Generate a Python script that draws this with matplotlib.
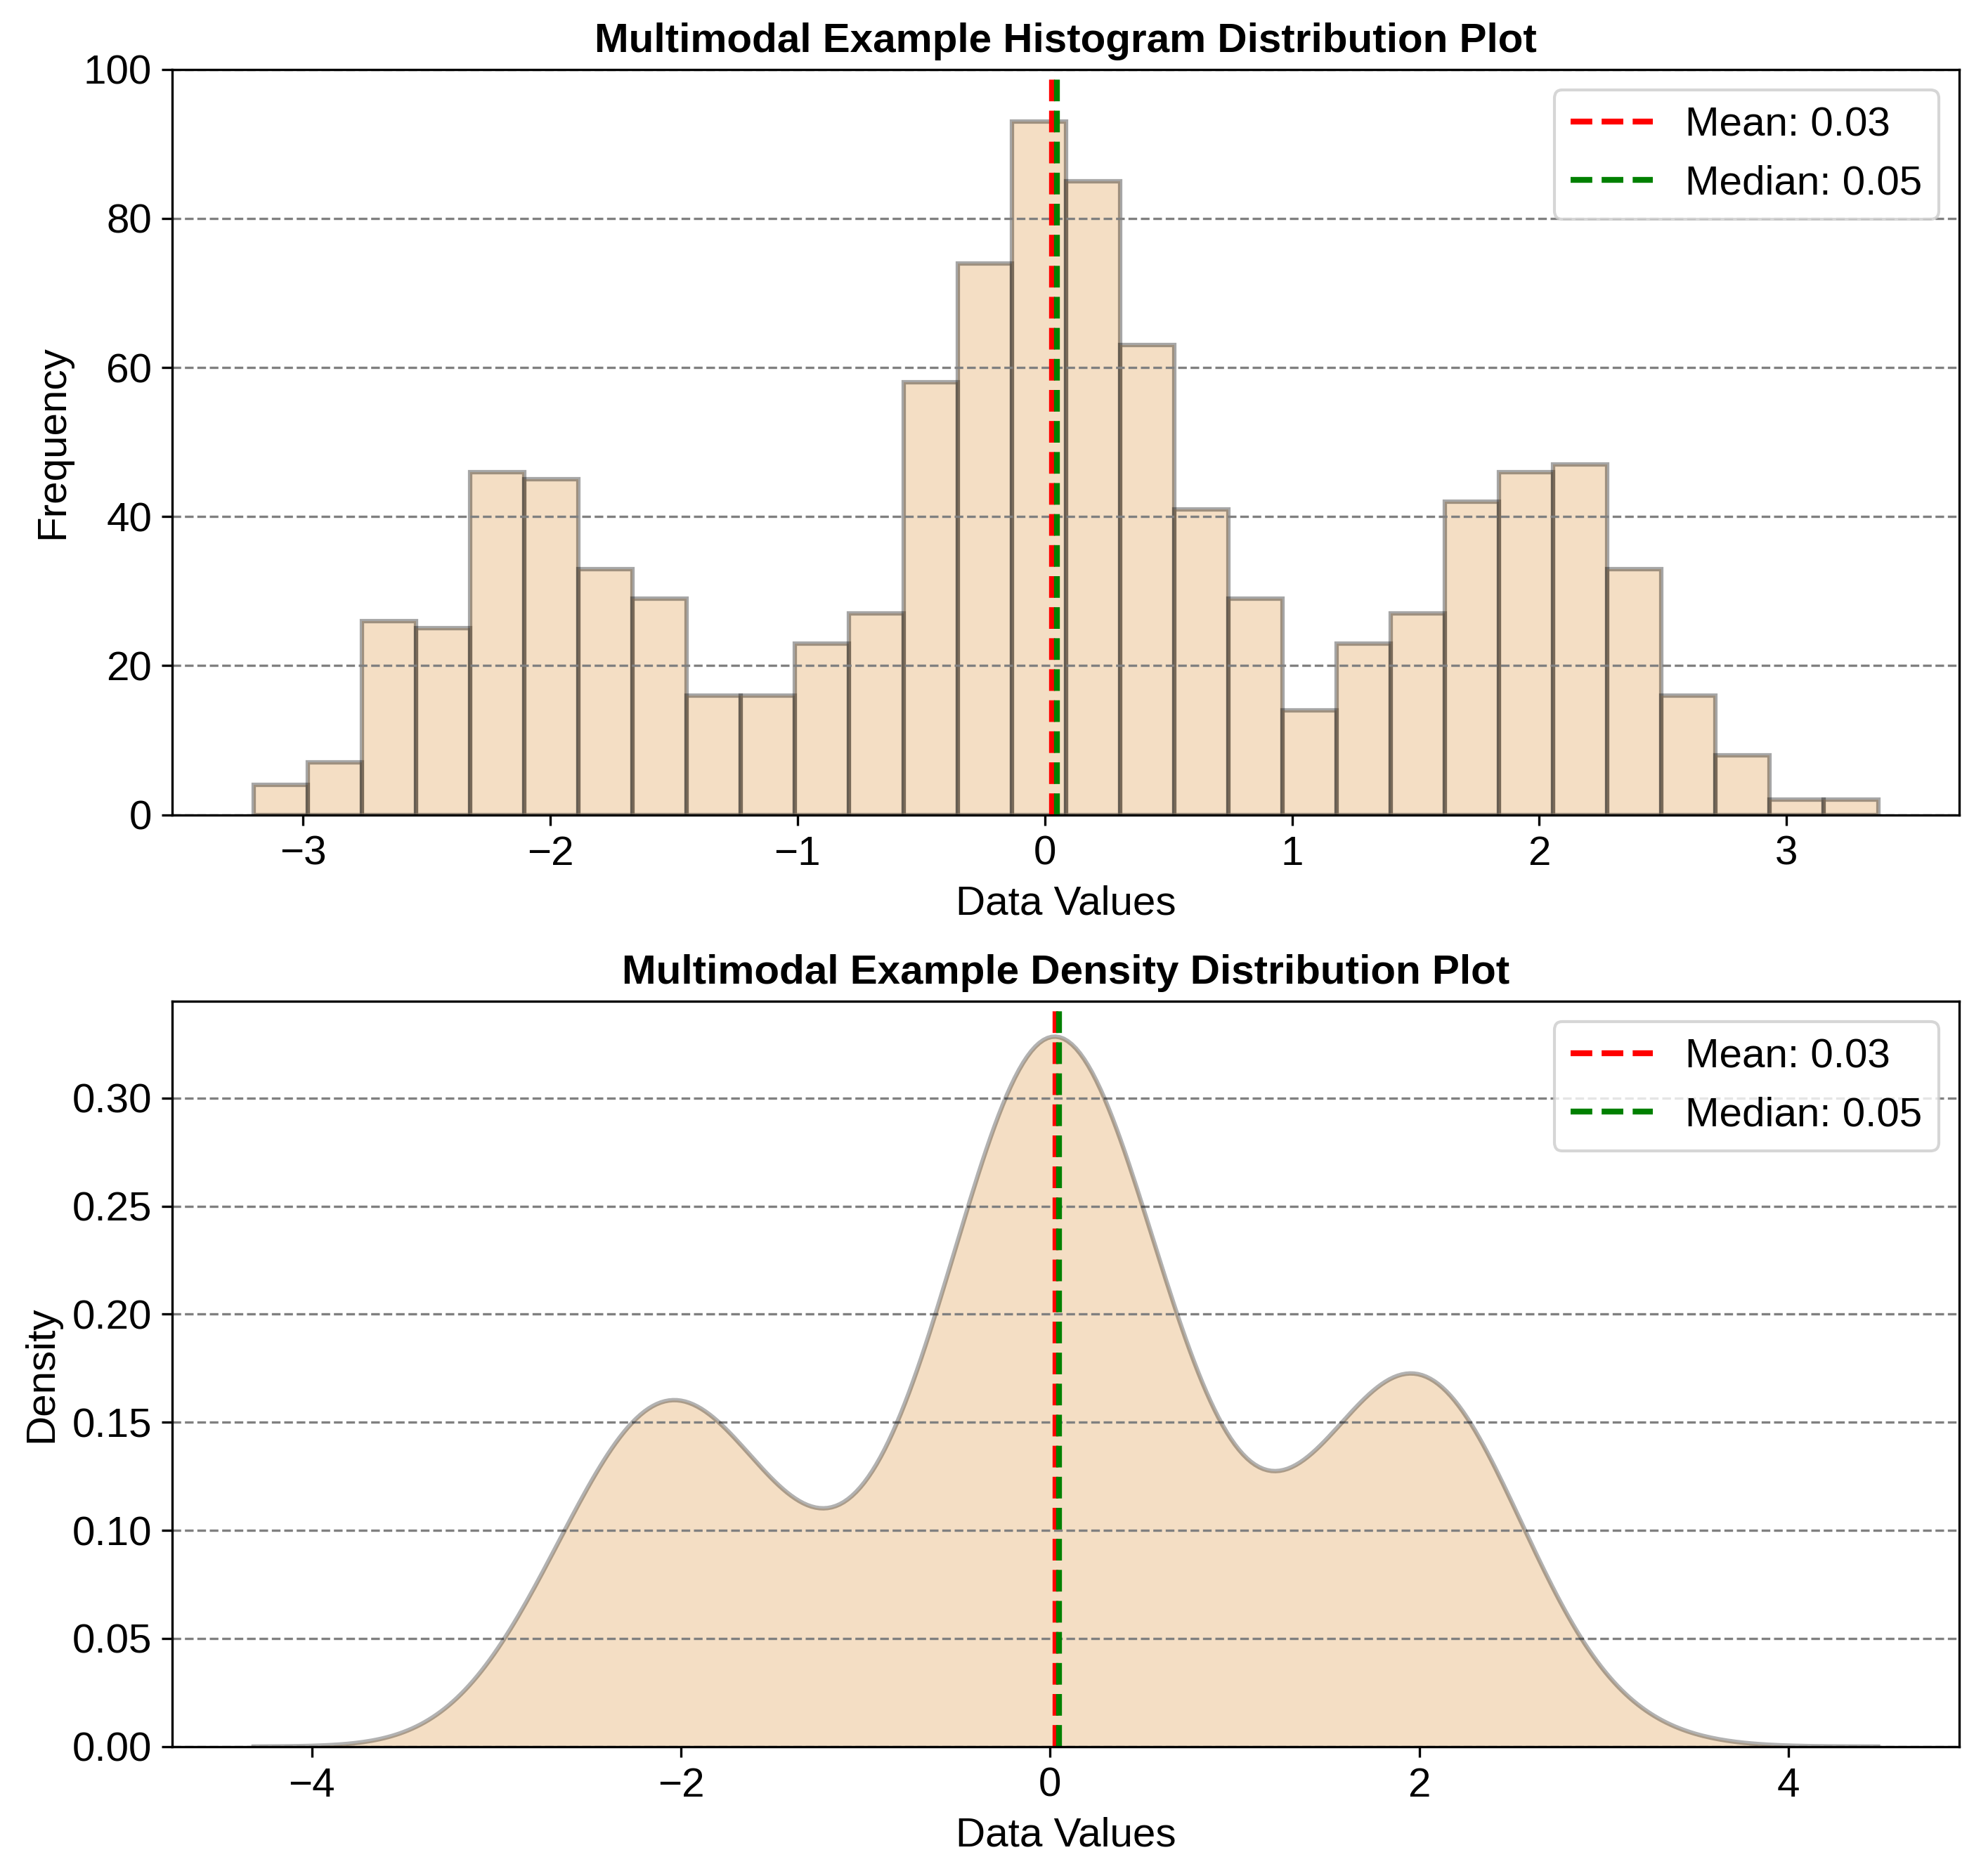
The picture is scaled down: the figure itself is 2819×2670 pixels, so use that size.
import numpy as np
import matplotlib
matplotlib.use("Agg")
import matplotlib.pyplot as plt

plt.rcParams['font.family'] = ['Liberation Sans', 'DejaVu Sans']

# histogram: 30 bins between hist_lo and hist_hi
hist_lo = -3.20
hist_hi = 3.37
counts = [4, 7, 26, 25, 46, 45, 33, 29, 16, 16,
          23, 27, 58, 74, 93, 85, 63, 41, 29, 14,
          23, 27, 42, 46, 47, 33, 16, 8, 2, 2]
mean_val = 0.03
median_val = 0.05

edges = np.linspace(hist_lo, hist_hi, len(counts) + 1)
centers = (edges[:-1] + edges[1:]) / 2

# gaussian kde (scott's rule) over the binned sample
sample = np.repeat(centers, counts)
bw = sample.std(ddof=1) * len(sample) ** (-1 / 5)
xs = np.linspace(hist_lo - 3 * bw, hist_hi + 3 * bw, 400)
dens = np.exp(-0.5 * ((xs[:, None] - sample[None, :]) / bw) ** 2).sum(axis=1)
dens /= len(sample) * bw * np.sqrt(2 * np.pi)

fill_col = '#E2A156'

fig, (ax1, ax2) = plt.subplots(2, 1, figsize=(9.397, 8.9), dpi=300)

ax1.hist(centers, bins=edges, weights=counts, color=fill_col, edgecolor='black',
         alpha=0.35, linewidth=1.5)
ax1.axvline(mean_val, color='red', linestyle='--', linewidth=2, label='Mean: %.2f' % mean_val)
ax1.axvline(median_val, color='green', linestyle='--', linewidth=2, label='Median: %.2f' % median_val)
ax1.set_ylim(0, 100)
ax1.set_title('Multimodal Example Histogram Distribution Plot', fontsize=14, fontweight='bold')
ax1.set_xlabel('Data Values', fontsize=14)
ax1.set_ylabel('Frequency', fontsize=14)
ax1.grid(axis='y', linestyle='--', color='gray', linewidth=0.8)
ax1.legend(fontsize=14, loc='upper right')
ax1.tick_params(labelsize=14)

ax2.fill_between(xs, dens, color=fill_col, alpha=0.35, linewidth=0)
ax2.plot(xs, dens, color='black', alpha=0.3, linewidth=1.5)
ax2.set_ylim(bottom=0)
ax2.axvline(mean_val, color='red', linestyle='--', linewidth=2, label='Mean: %.2f' % mean_val)
ax2.axvline(median_val, color='green', linestyle='--', linewidth=2, label='Median: %.2f' % median_val)
ax2.set_title('Multimodal Example Density Distribution Plot', fontsize=14, fontweight='bold')
ax2.set_xlabel('Data Values', fontsize=14)
ax2.set_ylabel('Density', fontsize=14)
ax2.grid(axis='y', linestyle='--', color='gray', linewidth=0.8)
ax2.legend(fontsize=14, loc='upper right')
ax2.tick_params(labelsize=14)

plt.subplots_adjust(left=0.087, right=0.989, top=0.963, bottom=0.069, hspace=0.25)
plt.savefig('out.png')
